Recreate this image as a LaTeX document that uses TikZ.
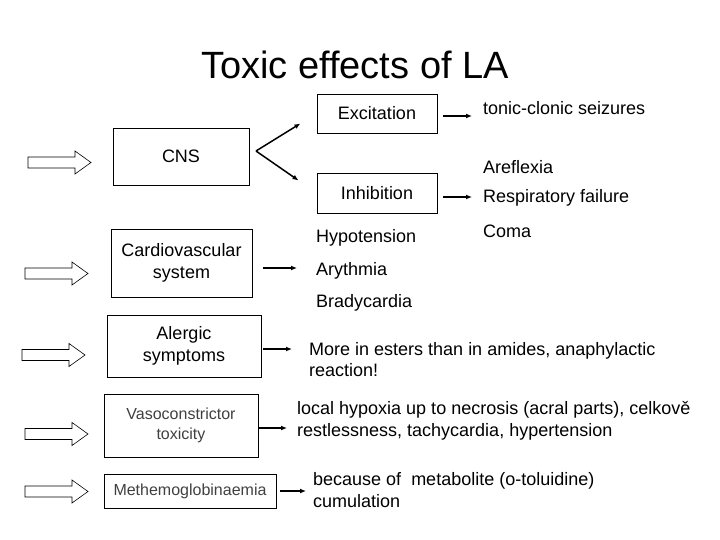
\documentclass[tikz,border=0pt]{standalone}
\usepackage{fontspec}
\setmainfont{Liberation Sans}
\usetikzlibrary{arrows.meta}
\tikzset {>={Latex[length=6pt,width=5pt]}}
\tikzset{
  box/.style={draw,line width=.8pt,inner sep=0pt,align=center,
    font=\fontsize{18}{21.6}\selectfont},
  thinbox/.style={box,text=black!75,font=\fontsize{16}{19.5}\selectfont},
  effect/.style={anchor=west,inner sep=0pt,align=left,
    font=\fontsize{18}{21.6}\selectfont},
  link/.style={->,line width=1.5pt},
  hollow/.style={draw,line width=.6pt}
}

\begin{document}
\begin{tikzpicture}[x=1pt,y=-1pt]
\useasboundingbox (0,0) rectangle (720,540);

\node[font=\fontsize{38}{45}\selectfont] (title) at (355,65) {Toxic effects of LA};

% causes
\node[box,minimum width=136pt,minimum height=57pt] (cns) at (181,156.5) {CNS};
\node[box,minimum width=141pt,minimum height=68pt] (cardio) at (181.5,263) {Cardiovascular\\system};
\node[box,minimum width=154pt,minimum height=62pt] (alergic) at (184,346) {Alergic\\symptoms};
\node[thinbox,minimum width=154pt,minimum height=63pt] (vaso) at (181,425.5) {Vasoconstrictor\\toxicity};
\node[thinbox,minimum width=172pt,minimum height=34pt] (methemo) at (190,491) {Methemoglobinaemia};

\node[box,minimum width=120pt,minimum height=39pt] (exc) at (377,113.5) {Excitation};
\node[box,minimum width=120pt,minimum height=40pt] (inh) at (377,193) {Inhibition};

% effects
\node[effect] (tonic) at (483,108) {tonic-clonic seizures};
\node[effect] (arefl) at (483,167) {Areflexia};
\node[effect] (resp) at (483,198) {Respiratory failure};
\node[effect] (coma) at (483,231) {Coma};
\node[effect] (hypo) at (316,238) {Hypotension};
\node[effect] (aryth) at (316,271) {Arythmia};
\node[effect] (brady) at (316,303) {Bradycardia};
\node[effect] (esters) at (309,359.5) {More in esters than in amides, anaphylactic\\reaction!};
\node[effect] (hypoxia) at (297,421) {local hypoxia up to necrosis (acral parts), celkově\\restlessness, tachycardia, hypertension};
\node[effect] (toluid) at (313,490) {because of\ \ metabolite (o-toluidine)\\cumulation};

% fork from CNS
\coordinate (fork) at (256,151);
\draw[link,shorten >=19pt] (fork) -- (exc.west);
\draw[link,shorten >=22pt] (fork) -- (inh.west);

\draw[link,shorten <=6pt,shorten >=11pt] ([yshift=-2.5pt]exc.east) -- ([yshift=-2.5pt]exc.east -| tonic.west);
\draw[link,shorten <=6pt,shorten >=11pt] ([yshift=-4pt]inh.east) -- ([yshift=-4pt]inh.east -| resp.west);
\draw[link,shorten <=11pt,shorten >=19pt] ([yshift=-5pt]cardio.east) -- ([yshift=-5pt]cardio.east -| aryth.west);
\draw[link,shorten <=2pt,shorten >=17pt] ([yshift=-3pt]alergic.east) -- ([yshift=-3pt]alergic.east -| esters.west);
\draw[link,shorten >=10pt] ([yshift=-2.5pt]vaso.east) -- ([yshift=-2.5pt]vaso.east -| hypoxia.west);
\draw[link,shorten <=4pt,shorten >=7pt] (methemo.east) -- (methemo.east -| toluid.west);

% hollow block arrows
\foreach \x/\y in {28/162.5,25/273.5,22/355,25/434,25/491.5}
  \draw[hollow] (\x,\y-5.5) -- ++(47,0) -- ++(0,-6) -- ++(16,11.5) -- ++(-16,11.5)
    -- ++(0,-6) -- ++(-47,0) -- cycle;
\end{tikzpicture}
\end{document}
